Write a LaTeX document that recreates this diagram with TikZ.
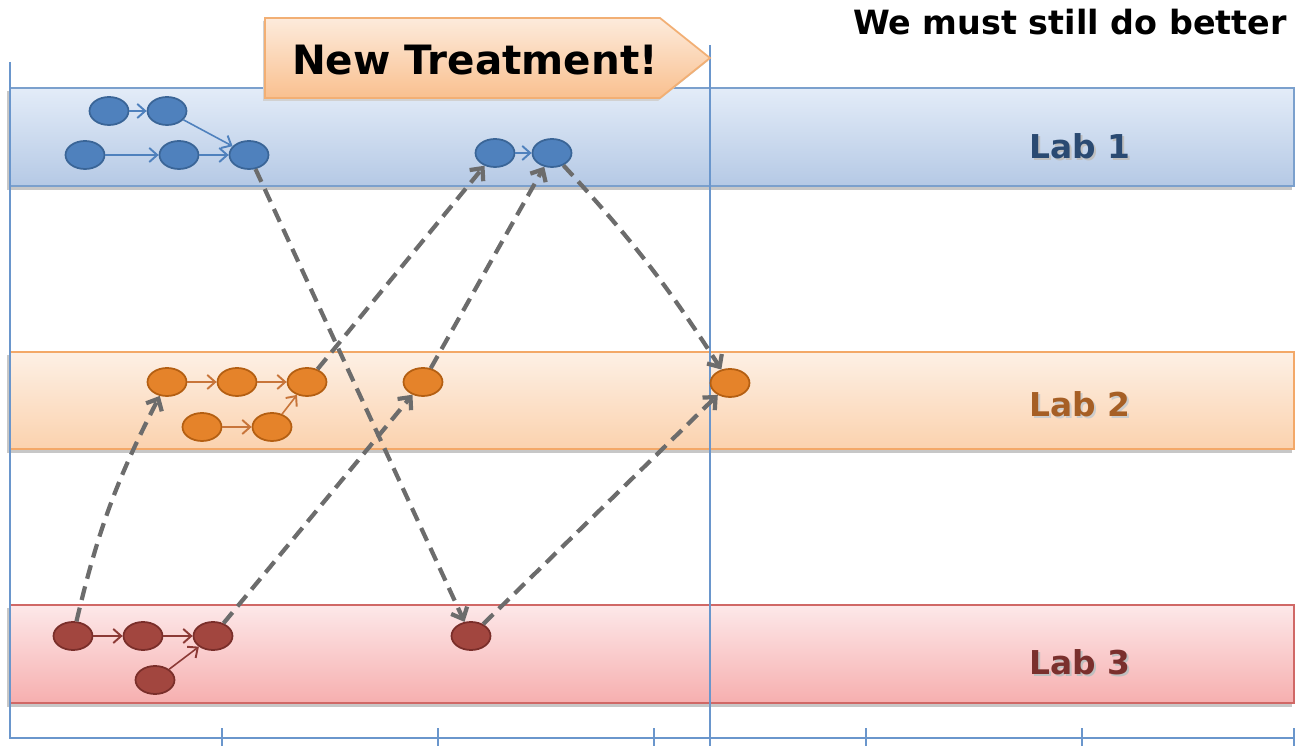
\documentclass[tikz,border=0pt]{standalone}
\usepackage{fontspec}
\setmainfont{DejaVu Sans}
\usetikzlibrary{arrows.meta,shapes.geometric}
\definecolor{axisc}{HTML}{6A96CC}
\definecolor{b1top}{HTML}{E3ECF8}
\definecolor{b1bot}{HTML}{B5C9E5}
\definecolor{b1bd}{HTML}{7BA0CD}
\definecolor{b2top}{HTML}{FDF0E5}
\definecolor{b2bot}{HTML}{FBD2AE}
\definecolor{b2bd}{HTML}{F3A868}
\definecolor{b3top}{HTML}{FDE8E9}
\definecolor{b3bot}{HTML}{F6AFAF}
\definecolor{b3bd}{HTML}{D06866}
\definecolor{bluef}{HTML}{4F81BD}
\definecolor{blued}{HTML}{3A6597}
\definecolor{orf}{HTML}{E5832A}
\definecolor{ord}{HTML}{B45F12}
\definecolor{redf}{HTML}{A2463F}
\definecolor{redd}{HTML}{7A2E2A}
\definecolor{ora}{HTML}{C8753A}
\definecolor{reda}{HTML}{8C3A36}
\definecolor{grayd}{HTML}{6C6C6C}
\definecolor{l1c}{HTML}{2A4A72}
\definecolor{l2c}{HTML}{A65F25}
\definecolor{l3c}{HTML}{7A302D}
\definecolor{tagtop}{HTML}{FDEBDC}
\definecolor{tagbot}{HTML}{F9C08F}
\definecolor{tagbd}{HTML}{F2AF74}
\begin{document}
\begin{tikzpicture}[x=0.02cm,y=-0.02cm,
  dot/.style={ellipse,minimum width=0.78cm,minimum height=0.56cm,inner sep=0pt,line width=1pt},
  bdot/.style={dot,fill=bluef,draw=blued},
  odot/.style={dot,fill=orf,draw=ord},
  rdot/.style={dot,fill=redf,draw=redd},
  inarrow/.style={line width=0.9pt,-{Straight Barb[length=4.5pt,width=8pt,line width=1.1pt]}},
  barrow/.style={inarrow,draw=bluef},
  oarrow/.style={inarrow,draw=ora},
  rarrow/.style={inarrow,draw=reda},
  hop/.style={draw=grayd,line width=2.4pt,dash pattern=on 8pt off 4.5pt,
    -{Straight Barb[length=5.5pt,width=10pt,line width=2.4pt]}},
  axisline/.style={draw=axisc,line width=0.9pt},
  labtext/.style={font=\bfseries\fontsize{18.7}{22}\selectfont},
  shadowc/.style={fill=black!22}
]
\useasboundingbox (0,0) rectangle (1296,746);
% band shadows
\fill[shadowc] (7,91) rectangle (1292,190);
\fill[shadowc] (7,355) rectangle (1292,453);
\fill[shadowc] (7,608) rectangle (1292,707);
% bands
\path[top color=b1top,bottom color=b1bot,draw=b1bd,line width=1pt] (10,88) rectangle (1294,186);
\path[top color=b2top,bottom color=b2bot,draw=b2bd,line width=1pt] (10,352) rectangle (1294,449);
\path[top color=b3top,bottom color=b3bot,draw=b3bd,line width=1pt] (10,605) rectangle (1294,703);
% axes
\draw[axisline] (10,62) -- (10,738) -- (1294,738);
\foreach \tx in {222,438,654,866,1082,1294}{\draw[axisline] (\tx,728) -- (\tx,746);}
\draw[axisline] (710,45) -- (710,746);
% tag shadow and tag
\fill[black!18] (263,21) -- (658,21) -- (708,61) -- (658,101) -- (263,101) -- cycle;
\path[top color=tagtop,bottom color=tagbot,draw=tagbd,line width=1pt]
  (265,18) -- (660,18) -- (710,58) -- (660,98) -- (265,98) -- cycle;
\node[font=\bfseries\fontsize{23}{27}\selectfont] (nt) at (475,60) {New Treatment!};
\node[font=\bfseries\fontsize{19}{22}\selectfont,anchor=east] (better) at (1293,22) {We must still do better};
% labels
\node[labtext,text=black!25] at (1082,148) {Lab 1};
\node[labtext,text=l1c] (lab1) at (1080,146) {Lab 1};
\node[labtext,text=black!20] at (1082,406) {Lab 2};
\node[labtext,text=l2c] (lab2) at (1080,404) {Lab 2};
\node[labtext,text=black!25] at (1082,664) {Lab 3};
\node[labtext,text=l3c] (lab3) at (1080,662) {Lab 3};
% lab 1 nodes
\node[bdot] (A1) at (109,111) {};
\node[bdot] (A2) at (167,111) {};
\node[bdot] (B1) at (85,155) {};
\node[bdot] (B2) at (179,155) {};
\node[bdot] (B3) at (249,155) {};
\node[bdot] (C1) at (495,153) {};
\node[bdot] (C2) at (552,153) {};
% lab 2 nodes
\node[odot] (D1) at (167,382) {};
\node[odot] (D2) at (237,382) {};
\node[odot] (D3) at (307,382) {};
\node[odot] (E1) at (202,427) {};
\node[odot] (E2) at (272,427) {};
\node[odot] (F) at (423,382) {};
\node[odot] (G) at (730,383) {};
% lab 3 nodes
\node[rdot] (H1) at (73,636) {};
\node[rdot] (H2) at (143,636) {};
\node[rdot] (H3) at (213,636) {};
\node[rdot] (H4) at (155,680) {};
\node[rdot] (I) at (471,636) {};
% in-lab arrows
\draw[barrow] (A1) -- (A2);
\draw[barrow] (A2) -- (B3);
\draw[barrow] (B1) -- (B2);
\draw[barrow] (B2) -- (B3);
\draw[barrow] (C1) -- (C2);
\draw[oarrow] (D1) -- (D2);
\draw[oarrow] (D2) -- (D3);
\draw[oarrow] (E1) -- (E2);
\draw[oarrow] (E2) -- (D3);
\draw[rarrow] (H1) -- (H2);
\draw[rarrow] (H2) -- (H3);
\draw[rarrow] (H4) -- (H3);
% transfers
\draw[hop] (B3) -- (I);
\draw[hop] (D3) -- (C1);
\draw[hop] (F) -- (C2);
\draw[hop] (C2) to[bend left=5] (G);
\draw[hop] (H1) to[bend left=7] (D1);
\draw[hop] (H3) -- (F);
\draw[hop] (I) -- (G);
\end{tikzpicture}
\end{document}
